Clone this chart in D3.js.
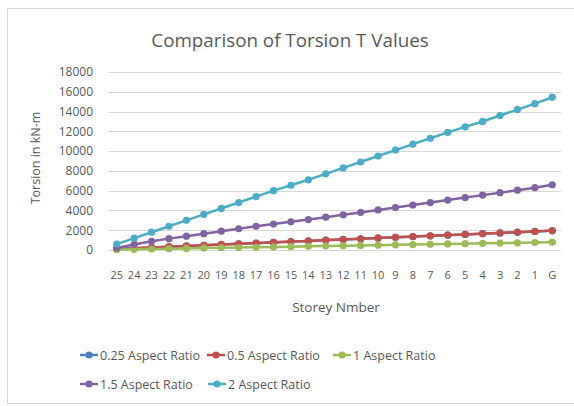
<!DOCTYPE html>
<html>
<head>
<meta charset="utf-8">
<script src="https://cdn.jsdelivr.net/npm/d3@7"></script>
<style>
body { margin: 0; background: #fff; }
svg text { font-family: "Open Sans", "Liberation Sans", sans-serif; fill: #595959; }
</style>
</head>
<body>
<script>
// storeys, top to ground
var storeys = ["25","24","23","22","21","20","19","18","17","16","15","14","13","12","11","10","9","8","7","6","5","4","3","2","1","G"];
var ar025 = [90,170,250,330,400,470,550,620,690,770,840,910,990,1060,1130,1210,1280,1350,1430,1500,1570,1650,1720,1790,1870,1940];
var ar05  = [100,180,260,340,410,480,560,630,700,780,850,920,1000,1070,1140,1220,1290,1360,1440,1510,1580,1660,1730,1800,1880,1960];
var ar1   = [40,70,100,130,160,190,220,250,280,310,340,370,400,430,460,490,520,550,580,610,640,670,700,730,760,790];
var ar15  = [200,560,880,1150,1400,1650,1900,2150,2400,2620,2850,3080,3320,3560,3800,4050,4300,4550,4800,5050,5300,5550,5800,6050,6300,6600];
var ar2   = [600,1200,1800,2400,3000,3600,4200,4800,5400,6000,6550,7100,7700,8300,8900,9500,10100,10700,11300,11900,12450,13000,13600,14200,14800,15450];
var yTicks = [0,2000,4000,6000,8000,10000,12000,14000,16000,18000];

var series = [
  ["0.25 Aspect Ratio", ar025, "#4F81BD"],
  ["0.5 Aspect Ratio", ar05, "#C0504D"],
  ["1 Aspect Ratio", ar1, "#9BBB59"],
  ["1.5 Aspect Ratio", ar15, "#8064A2"],
  ["2 Aspect Ratio", ar2, "#4BACC6"]
];

var W = 574, H = 406;
var margin = { left: 108, right: 13, top: 72, bottom: 156 };
var pw = W - margin.left - margin.right;
var ph = H - margin.top - margin.bottom;

var svg = d3.select("body").append("svg").attr("width", W).attr("height", H);

// chart frame
svg.append("rect").attr("x", 7.5).attr("y", 8.5).attr("width", W + 10).attr("height", 395)
  .attr("fill", "#fff").attr("stroke", "#d9d9d9");

svg.append("text").attr("x", 290).attr("y", 47).attr("text-anchor", "middle")
  .attr("font-size", "18.8px").text("Comparison of Torsion T Values");

var x = d3.scaleBand().domain(storeys).range([0, pw]);
var y = d3.scaleLinear().domain([0, 18000]).range([ph, 0]);

var g = svg.append("g").attr("transform", "translate(" + margin.left + "," + margin.top + ")");

// gridlines
g.selectAll("line.grid").data(yTicks).enter().append("line")
  .attr("class", "grid")
  .attr("x1", 0).attr("x2", pw)
  .attr("y1", function (d) { return Math.round(y(d)) + 0.5; })
  .attr("y2", function (d) { return Math.round(y(d)) + 0.5; })
  .attr("stroke", "#d9d9d9");

var yAxis = g.append("g").call(d3.axisLeft(y).tickValues(yTicks).tickFormat(d3.format("d")).tickSize(0).tickPadding(15));
yAxis.select(".domain").remove();
yAxis.selectAll("text").attr("font-size", "12px").style("fill", "#595959");

var xAxis = g.append("g").attr("transform", "translate(0," + ph + ")")
  .call(d3.axisBottom(x).tickSize(0).tickPadding(21));
xAxis.select(".domain").remove();
xAxis.selectAll("text").attr("font-size", "11px").style("fill", "#595959");

svg.append("text").attr("transform", "translate(40,158) rotate(-90)")
  .attr("text-anchor", "middle").attr("font-size", "12.5px").text("Torsion in kN-m");
svg.append("text").attr("x", 336).attr("y", 312)
  .attr("text-anchor", "middle").attr("font-size", "13.5px").text("Storey Nmber");

var line = d3.line()
  .x(function (d, i) { return x(storeys[i]) + x.bandwidth() / 2; })
  .y(function (d) { return y(d); });

series.forEach(function (s) {
  g.append("path").attr("d", line(s[1])).attr("fill", "none")
    .attr("stroke", s[2]).attr("stroke-width", 2.5);
  g.selectAll(null).data(s[1]).enter().append("circle")
    .attr("cx", function (d, i) { return x(storeys[i]) + x.bandwidth() / 2; })
    .attr("cy", function (d) { return y(d); })
    .attr("r", 3.6).attr("fill", s[2]);
});

// legend
var legPos = [[80, 355], [207, 355], [333, 355], [80, 384], [208, 384]];
series.forEach(function (s, i) {
  var lg = svg.append("g").attr("transform", "translate(" + legPos[i][0] + "," + legPos[i][1] + ")");
  lg.append("line").attr("x1", 0).attr("x2", 18).attr("stroke", s[2]).attr("stroke-width", 2.5);
  lg.append("circle").attr("cx", 9).attr("r", 3.6).attr("fill", s[2]);
  lg.append("text").attr("x", 20).attr("y", 4.5).attr("font-size", "12.5px").text(s[0]);
});
</script>
</body>
</html>
